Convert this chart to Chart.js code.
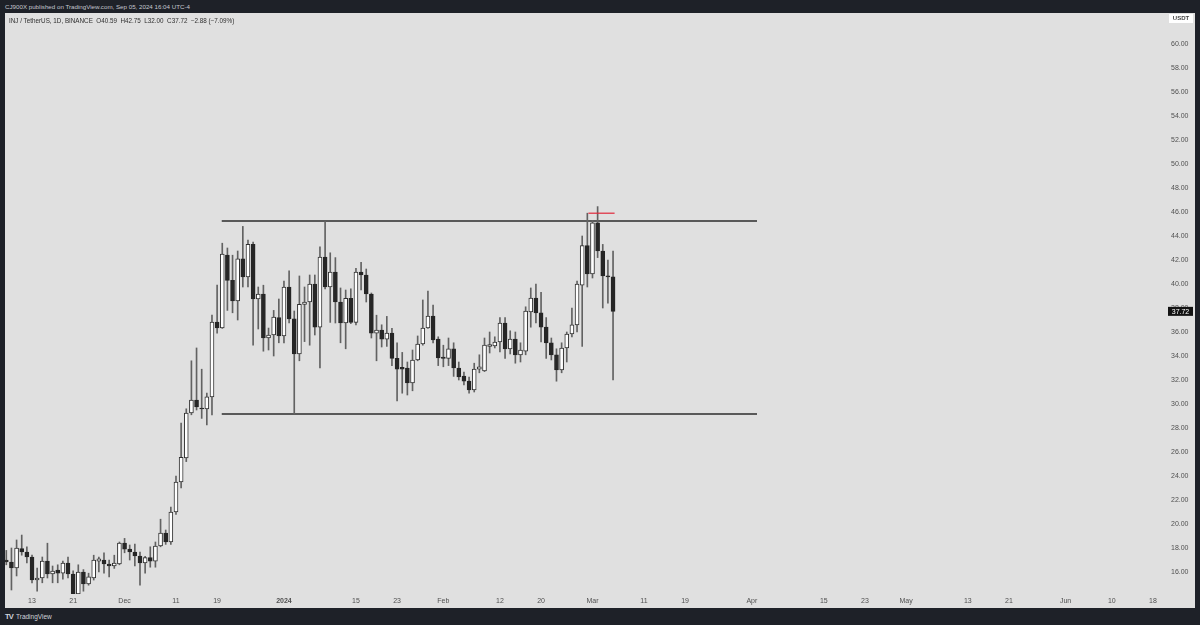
<!DOCTYPE html>
<html><head><meta charset="utf-8">
<script src="https://cdn.jsdelivr.net/npm/chart.js@4.4.1/dist/chart.umd.min.js"></script>
<style>
html,body{margin:0;padding:0;background:#1e2128;width:1200px;height:625px;overflow:hidden;font-family:"Liberation Sans",Arial,sans-serif;}
#hdr{position:absolute;left:5px;top:2px;font-size:6.2px;color:#c4c7cf;line-height:10px;white-space:nowrap}
#panel{position:absolute;left:5px;top:13px;width:1190px;height:595px;background:#e0e0e0}
#legend{position:absolute;left:4px;top:3px;font-size:6.3px;color:#2e2e2e;line-height:10px;white-space:pre}
#foot{position:absolute;left:5px;top:612px;font-size:6.5px;color:#d1d4dc;line-height:10px;white-space:nowrap}
#foot b{font-size:7.5px;letter-spacing:-0.8px;margin-right:3px}
canvas{position:absolute;left:0;top:0}
</style></head>
<body>
<div id="hdr">CJ900X published on TradingView.com, Sep 05, 2024 16:04 UTC-4</div>
<div id="panel"><canvas id="c" width="1190" height="595"></canvas><div id="legend"></div></div>
<div id="foot"><b>TV</b>TradingView</div>
<script>
// Daily candles, index 0 = 2023-11-08
const opens = [17.0,16.83,16.33,17.95,17.67,17.25,15.33,15.5,16.9,15.83,16.17,15.9,16.75,15.83,14.17,16.0,15.0,15.5,16.9,17.0,
16.67,16.5,16.67,18.4,17.9,17.67,17.33,16.75,17.2,16.9,18.17,19.25,18.5,21.0,23.5,25.5,29.25,30.33,29.67,29.58,
30.6,36.83,36.33,42.4,40.3,38.6,42.1,40.6,43.3,38.75,39.17,35.5,35.75,37.2,35.67,39.75,37.1,34.17,38.3,38.5,
40.0,36.4,42.25,39.75,41.0,38.5,36.75,38.8,36.8,41.0,40.75,39.17,35.9,36.17,35.4,35.9,33.8,33.05,33.0,31.75,
33.67,35.0,36.33,37.33,35.4,33.9,33.8,34.6,33.0,32.33,31.9,31.17,32.9,32.75,34.8,34.85,35.17,36.75,34.6,35.4,
34.1,34.4,37.67,38.83,37.6,36.4,35.1,34.1,32.83,34.67,35.83,36.6,39.9,43.2,40.85,45.1,42.75,40.67,40.59];
const highs = [17.8,18.0,18.67,19.08,18.1,17.4,16.33,17.25,18.4,16.5,16.6,16.9,17.25,16.1,16.6,16.2,15.9,17.4,17.25,17.6,
17.0,17.4,18.5,18.8,18.25,18.33,17.67,17.3,18.1,18.5,20.4,19.5,21.4,24.0,28.4,29.6,33.6,34.67,32.9,30.9,
37.4,39.9,43.4,43.0,42.4,42.75,44.8,43.67,43.5,39.75,39.9,36.33,37.8,38.75,40.25,41.1,37.75,40.67,39.75,40.75,
40.75,43.1,45.25,42.6,42.2,39.67,39.5,39.6,41.3,41.8,41.25,39.25,37.4,36.6,37.3,36.3,35.1,34.3,33.5,34.5,
35.67,38.67,39.4,38.25,35.6,34.9,35.5,35.1,33.5,32.67,32.25,33.4,34.1,35.5,36.0,35.6,37.2,37.2,36.1,36.0,
35.1,38.1,39.67,40.0,39.3,37.2,35.5,34.6,35.1,36.0,38.0,40.25,44.0,45.9,45.3,46.45,43.3,42.0,42.75];
const lows = [16.6,14.5,15.67,17.4,16.75,15.08,14.4,15.1,15.5,15.1,15.1,15.4,15.5,14.0,14.1,14.4,14.9,15.33,16.0,15.9,
15.6,16.3,16.6,17.6,17.0,16.5,14.9,15.9,16.4,16.4,18.1,18.3,18.3,20.8,23.0,25.2,29.1,29.5,28.8,28.25,
29.1,35.9,36.3,37.8,37.6,37.0,39.75,39.75,34.9,36.25,34.4,34.5,34.0,35.1,35.1,36.75,29.17,33.6,35.2,34.9,
35.75,33.0,39.6,36.8,36.75,35.1,34.6,36.7,36.6,39.5,38.5,35.5,33.6,34.75,34.8,33.2,30.25,30.9,30.75,31.1,
33.6,34.9,36.3,35.1,33.2,33.1,33.2,32.3,32.0,31.6,30.9,31.0,32.6,32.7,34.25,34.67,34.33,33.8,34.17,33.4,
33.5,34.1,36.4,36.75,35.17,33.8,33.67,31.9,32.6,33.5,35.6,36.0,34.8,39.75,40.5,42.2,38.0,38.4,32.0];
const closes = [16.85,16.33,18.0,17.67,17.25,15.33,15.5,16.9,15.83,16.08,15.9,16.75,15.83,14.17,16.0,15.0,15.6,17.0,17.1,16.67,
16.5,16.75,18.4,17.9,17.67,17.33,16.75,17.2,16.9,18.17,19.25,18.5,21.0,23.5,25.56,29.25,30.33,29.75,29.58,30.6,
36.83,36.33,42.5,40.3,38.6,42.1,40.6,43.3,38.75,39.17,35.5,35.75,37.25,35.67,39.75,37.1,34.17,38.3,38.5,40.0,
36.4,42.25,39.75,41.0,38.5,36.75,38.8,36.8,41.0,40.75,39.17,35.9,36.17,35.4,35.9,33.8,32.9,32.9,31.75,33.67,
35.0,36.33,37.33,35.33,33.83,33.8,34.6,33.0,32.25,31.9,31.17,32.9,33.1,34.9,34.95,35.17,36.75,34.6,35.4,34.1,
34.5,37.75,38.83,37.6,36.4,35.1,34.1,32.83,34.67,35.83,36.6,40.0,43.2,40.85,45.1,42.75,40.67,40.60,37.72];

const priceTicks = [16,18,20,22,24,26,28,30,32,34,36,38,40,42,44,46,48,50,52,54,56,58,60];
const dateTickIdx = [5,13,23,33,41,54,68,76,85,96,104,114,124,132,145,159,167,175,187,195,206,215,223];
const dateTickLabels = ['13','21','Dec','11','19','2024','15','23','Feb','12','20','Mar','11','19','Apr','15','23','May','13','21','Jun','10','18'];

// drawn horizontal levels (price, from index, to index)
const levelPrices = [45.25, 29.17];
const levelFrom = [41.9, 41.9];
const levelTo = [146, 146];
const markPrice = [45.9];
const markFrom = [113.2];
const markTo = [118.3];

const symbolText = 'INJ / TetherUS, 1D, BINANCE';
const n = closes.length;
const lastO = opens[n-1], lastH = highs[n-1], lastL = lows[n-1], lastC = closes[n-1], prevC = closes[n-2];
const chg = lastC - prevC, pct = chg / prevC * 100;
const fmtS = v => (v < 0 ? '\u2212' : '+') + Math.abs(v).toFixed(2);
document.getElementById('legend').textContent =
  symbolText + '  O' + lastO.toFixed(2) + '  H' + lastH.toFixed(2) + '  L' + lastL.toFixed(2) + '  C' + lastC.toFixed(2) +
  '  ' + fmtS(chg) + ' (' + fmtS(pct) + '%)';

const FONT = '"Liberation Sans", Arial, sans-serif';
const isUp = i => closes[i] >= opens[i];

const overlay = {
  id: 'overlay',
  afterDraw(chart) {
    const {ctx, chartArea, scales} = chart;
    const yy = scales.y.getPixelForValue(lastC);
    ctx.save();
    ctx.fillStyle = '#131313';
    ctx.fillRect(chartArea.right + 6, yy - 4.5, 25, 9);
    ctx.fillStyle = '#ffffff';
    ctx.font = '7px ' + FONT;
    ctx.textBaseline = 'middle';
    ctx.textAlign = 'center';
    ctx.fillText(lastC.toFixed(2), chartArea.right + 18.5, yy + 0.5);
    ctx.fillStyle = '#ffffff';
    ctx.fillRect(chartArea.right + 7, 1, 24, 9);
    ctx.fillStyle = '#444';
    ctx.font = 'bold 6px ' + FONT;
    ctx.fillText('USDT', chartArea.right + 19, 5.8);
    ctx.restore();
  }
};

const datasets = [
  {
    type: 'bar', label: 'body', order: 1, grouped: false,
    data: closes.map((c, i) => ({x: i, y: [opens[i], c]})),
    backgroundColor: ctx => isUp(ctx.dataIndex) ? '#ffffff' : '#262626',
    borderColor: ctx => isUp(ctx.dataIndex) ? '#303030' : '#262626',
    borderWidth: 1, borderSkipped: false, barThickness: 4, minBarLength: 1
  },
  {
    type: 'bar', label: 'wick', order: 2, grouped: false,
    data: highs.map((h, i) => ({x: i, y: [lows[i], h]})),
    backgroundColor: '#626262', borderWidth: 0, barThickness: 1
  }
];
levelPrices.forEach((p, k) => datasets.push({
  type: 'line', label: 'level' + k, order: 3,
  data: [{x: levelFrom[k], y: p}, {x: levelTo[k], y: p}],
  borderColor: '#2c2c2c', borderWidth: 1.5, pointRadius: 0, fill: false
}));
markPrice.forEach((p, k) => datasets.push({
  type: 'line', label: 'mark' + k, order: 0,
  data: [{x: markFrom[k], y: p}, {x: markTo[k], y: p}],
  borderColor: '#e0283a', borderWidth: 1.2, pointRadius: 0, fill: false
}));

new Chart(document.getElementById('c'), {
  type: 'bar',
  data: {datasets},
  plugins: [overlay],
  options: {
    responsive: false, animation: false, devicePixelRatio: 1,
    layout: {padding: 0},
    plugins: {legend: {display: false}, tooltip: {enabled: false}},
    scales: {
      x: {
        type: 'linear', offset: false, min: -0.253, max: 224.76,
        afterBuildTicks: s => { s.ticks = dateTickIdx.map(v => ({value: v})); },
        afterFit: s => { s.height = 14; s.paddingLeft = 0; s.paddingRight = 0; s.paddingTop = 0; s.paddingBottom = 0; },
        grid: {display: false, drawTicks: false}, border: {display: false},
        ticks: {
          autoSkip: false, maxRotation: 0, padding: 3, color: '#505050',
          font: ctx => ({size: 7, family: FONT, weight: (ctx.tick && ctx.tick.value === 54) ? 'bold' : 'normal'}),
          callback: v => { const k = dateTickIdx.indexOf(v); return k >= 0 ? dateTickLabels[k] : ''; }
        }
      },
      y: {
        type: 'linear', position: 'right', min: 14.1667, max: 62.5833,
        afterBuildTicks: s => { s.ticks = priceTicks.map(v => ({value: v})); },
        afterFit: s => { s.width = 33; s.paddingTop = 0; s.paddingBottom = 0; s.paddingLeft = 0; s.paddingRight = 0; },
        grid: {display: false, drawTicks: false}, border: {display: false},
        ticks: {padding: 9, color: '#505050', font: {size: 7, family: FONT}, callback: v => Number(v).toFixed(2)}
      }
    }
  }
});
</script>
</body></html>
